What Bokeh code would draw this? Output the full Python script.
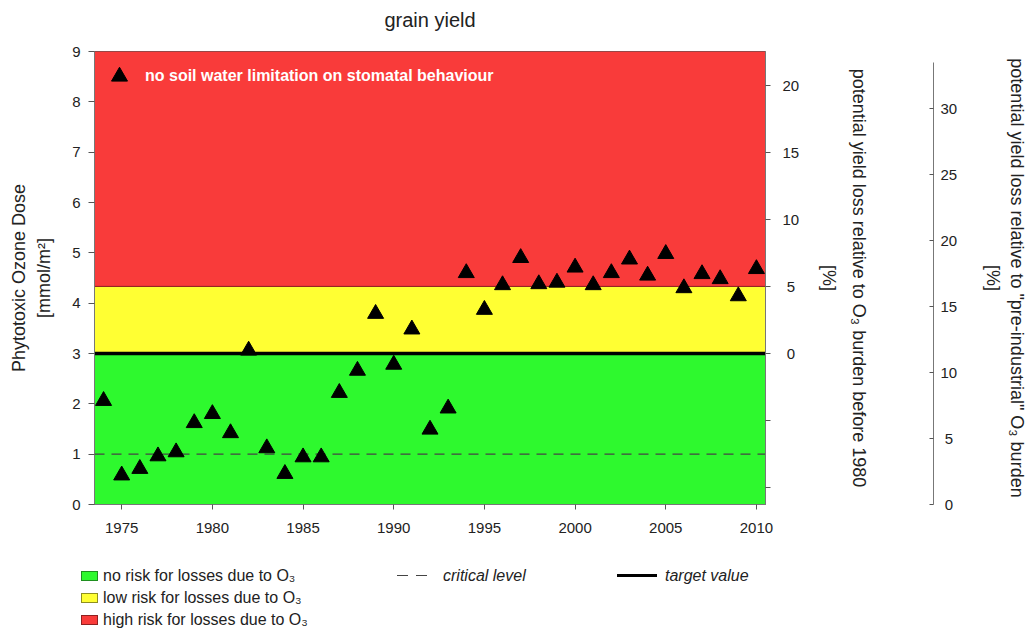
from bokeh.plotting import figure
from bokeh.layouts import column
from bokeh.models import Range1d, LinearAxis, FixedTicker, Legend, LegendItem, Div
from bokeh.embed import file_html
from bokeh.resources import INLINE

# ---------------- data ----------------
years = list(range(1974, 2011))
pod = [2.06, 0.58, 0.71, 0.96, 1.04, 1.62, 1.80, 1.42, 3.06, 1.12, 0.61, 0.94,
       0.94, 2.22, 2.66, 3.79, 2.78, 3.48, 1.49, 1.91, 4.60, 3.87, 4.36, 4.90,
       4.38, 4.41, 4.71, 4.36, 4.60, 4.87, 4.55, 4.98, 4.30, 4.58, 4.48, 4.14, 4.68]

band_bottom = [0.0, 3.0, 4.333]
band_top = [3.0, 4.333, 9.0]
band_colors = ["#2EF92E", "#FFFF33", "#F93B3A"]
band_edges = ["#1F8F1F", "#8F8F1F", "#8F2020"]
band_labels = ["no risk for losses due to O\u2083",
               "low risk for losses due to O\u2083",
               "high risk for losses due to O\u2083"]

critical_level = 1.0
target_value = 3.0
line_labels = ["critical level", "target value"]

x_ticks = [1975, 1980, 1985, 1990, 1995, 2000, 2005, 2010]
y_ticks = [0, 1, 2, 3, 4, 5, 6, 7, 8, 9]
pct80_ticks = [-10, -5, 0, 5, 10, 15, 20]
pre_ticks = [0, 5, 10, 15, 20, 25, 30]

X0, X1 = 1973.5, 2010.5
FONT = "Liberation Sans"
TXT = "#222222"

p = figure(width=1030, height=548, x_range=Range1d(X0, X1), y_range=Range1d(0, 9),
           output_backend="svg", toolbar_location=None, title="grain yield\n\u00a0",
           min_border_left=94, min_border_top=51, min_border_right=263,
           min_border_bottom=44)
p.grid.visible = False
p.outline_line_color = "#808080"
p.background_fill_color = "white"
p.border_fill_color = "white"

p.title.align = "center"
p.title.text_font = FONT
p.title.text_font_size = "20px"
p.title.text_font_style = "normal"
p.title.text_color = TXT
p.title.text_line_height = 0.9
p.title.standoff = 1

# bands
for b0, b1, fc, lc in zip(band_bottom, band_top, band_colors, band_edges):
    p.quad(left=X0, right=X1, bottom=b0, top=b1, fill_color=fc,
           line_color=lc, line_width=1)

p.line(x=[X0, X1], y=[critical_level, critical_level], line_color="#444444",
       line_width=1.2, line_dash="10 7")
p.line(x=[X0, X1], y=[target_value, target_value], line_color="black",
       line_width=3.5)

pts = p.scatter(years, pod, marker="triangle", size=16, fill_color="black",
                line_color="black")

# axes styling
def style_axis(ax, lh):
    ax.major_label_text_font = FONT
    ax.major_label_text_font_size = "15px"
    ax.major_label_text_color = TXT
    ax.axis_label_text_font = FONT
    ax.axis_label_text_font_size = "18px"
    ax.axis_label_text_font_style = "normal"
    ax.axis_label_text_color = TXT
    ax.axis_label_text_line_height = lh
    ax.minor_tick_line_color = None
    ax.major_tick_line_color = "#555555"
    ax.axis_line_color = "#777777"

p.xaxis.ticker = FixedTicker(ticks=x_ticks)
p.yaxis.ticker = FixedTicker(ticks=y_ticks)
style_axis(p.xaxis[0], 1.2)
style_axis(p.yaxis[0], 1.25)
p.xaxis.major_tick_out = 5
p.xaxis.major_tick_in = 0
p.xaxis.major_label_standoff = 13
p.yaxis.major_tick_out = 6
p.yaxis.major_tick_in = 0
p.yaxis.major_label_standoff = 8
p.yaxis.axis_label = "Phytotoxic Ozone Dose\n[mmol/m\u00b2]"
p.yaxis.axis_label_standoff = 15

p.extra_y_ranges = {"pct80": Range1d(-11.25, 22.5), "spacer": Range1d(0, 1),
                    "pre": Range1d(0, 34.35)}

ax1 = LinearAxis(y_range_name="pct80", ticker=FixedTicker(ticks=pct80_ticks),
                 axis_label="potential yield loss relative to O\u2083 burden before 1980\n[%]",
                 major_label_overrides={-10: "", -5: "", 0: "\u00a00", 5: "\u00a05"})
style_axis(ax1, 1.5)
ax1.major_tick_out = 5
ax1.major_tick_in = 0
ax1.major_label_standoff = 12
ax1.axis_label_standoff = 17
p.add_layout(ax1, "right")

spacer = LinearAxis(y_range_name="spacer", ticker=FixedTicker(ticks=[]),
                    axis_line_color=None, axis_label=".",
                    axis_label_text_color=None, axis_label_text_font_size="10px",
                    axis_label_standoff=50)
p.add_layout(spacer, "right")

ax2 = LinearAxis(y_range_name="pre", ticker=FixedTicker(ticks=pre_ticks),
                 axis_label="potential yield loss relative to \"pre-industrial\" O\u2083 burden\n[%]",
                 major_label_overrides={0: "\u00a00", 5: "\u00a05"}, bounds=(0, 33.5))
style_axis(ax2, 1.2)
ax2.major_tick_out = 0
ax2.major_tick_in = 4
ax2.major_label_standoff = 7
ax2.axis_label_standoff = 23
p.add_layout(ax2, "right")

# in-plot legend for the triangles
lg_pts = Legend(items=[LegendItem(label="no soil water limitation on stomatal behaviour",
                                  renderers=[pts])],
                location=(5, 408), glyph_width=40, glyph_height=40, label_standoff=6,
                background_fill_alpha=0, border_line_color=None, padding=0, margin=0,
                label_text_font=FONT, label_text_font_size="16px",
                label_text_color="white", label_text_font_style="bold")
p.add_layout(lg_pts)

# ---------------- legend strip below the chart ----------------
parts = ['<div style="position:relative;width:1030px;height:84px;'
         'font-family:\'Liberation Sans\',Arial,sans-serif;font-size:16px;color:#222;">']
for i, (lab, fc, lc) in enumerate(zip(band_labels, band_colors, band_edges)):
    cy = 28 + 22 * i
    parts.append(f'<div style="position:absolute;left:81px;top:{cy - 5}px;width:17px;'
                 f'height:10px;box-sizing:border-box;background:{fc};'
                 f'border:1px solid {lc};"></div>')
    parts.append(f'<div style="position:absolute;left:103px;top:{cy - 10}px;'
                 f'line-height:20px;white-space:nowrap;">{lab}</div>')
# critical level (dashed) and target value (thick) keys
parts.append('<div style="position:absolute;left:397px;top:27px;width:11px;height:1px;'
             'background:#444;"></div>')
parts.append('<div style="position:absolute;left:416px;top:27px;width:11px;height:1px;'
             'background:#444;"></div>')
parts.append(f'<div style="position:absolute;left:443px;top:18px;line-height:20px;'
             f'font-style:italic;white-space:nowrap;">{line_labels[0]}</div>')
parts.append('<div style="position:absolute;left:617px;top:26px;width:40px;height:3px;'
             'background:#000;"></div>')
parts.append(f'<div style="position:absolute;left:665px;top:18px;line-height:20px;'
             f'font-style:italic;white-space:nowrap;">{line_labels[1]}</div>')
parts.append('</div>')

legend_div = Div(text="".join(parts), width=1030, height=84, margin=0)

layout = column(p, legend_div, spacing=0)
open("out.html", "w").write(file_html(layout, INLINE))
